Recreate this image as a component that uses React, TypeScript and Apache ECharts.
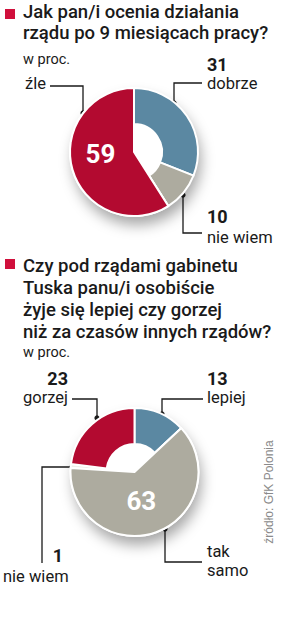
import React, { useEffect, useRef } from 'react';
import * as echarts from 'echarts';

const q1Title = ['Jak pan/i ocenia działania', 'rządu po 9 miesiącach pracy?'];
const q1Categories = ['dobrze', 'nie wiem', 'źle'];
const q1Values = [31, 10, 59];

const q2Title = [
  'Czy pod rządami gabinetu',
  'Tuska panu/i osobiście',
  'żyje się lepiej czy gorzej',
  'niż za czasów innych rządów?',
];
const q2Categories = ['lepiej', 'tak samo', 'nie wiem', 'gorzej'];
const q2Values = [13, 63, 1, 23];

const unitLabel = 'w proc.';
const sourceLabel = 'źródło: GfK Polonia';

const RED = '#b30a30';
const BLUE = '#5b88a2';
const GRAY = '#adab9f';
const LIGHT = '#efeee9';
const SQUARE = '#d0103c';
const INK = '#1a1a1a';

const q1Colors = [BLUE, GRAY, RED];
const q2Colors = [BLUE, GRAY, LIGHT, RED];

const FONT = 'Roboto, "Noto Sans", sans-serif';

const R_OUT = 64;
const R_IN = 28;
const C1 = [134, 152];
const C2 = [134.5, 472];

function pieSeries(center: number[], cats: string[], vals: number[], colors: string[], fullIdx: number, inside: { dx: number; dy: number }) {
  const shadow = {
    type: 'pie',
    silent: true,
    center,
    radius: [0, R_OUT],
    startAngle: 90,
    label: { show: false },
    labelLine: { show: false },
    emphasis: { disabled: true },
    data: [
      {
        value: 1,
        itemStyle: {
          color: '#ffffff',
          shadowBlur: 14,
          shadowOffsetX: 3,
          shadowOffsetY: 9,
          shadowColor: 'rgba(0,0,0,0.35)',
        },
      },
    ],
  };
  const donut = {
    type: 'pie',
    silent: true,
    center,
    radius: [R_IN, R_OUT],
    startAngle: 90,
    clockwise: true,
    avoidLabelOverlap: false,
    label: { show: false },
    labelLine: { show: false },
    emphasis: { disabled: true },
    itemStyle: { borderColor: '#ffffff', borderWidth: 2 },
    data: cats.map((c, i) => ({ name: c, value: vals[i], itemStyle: { color: colors[i] } })),
  };
  const full = {
    type: 'pie',
    silent: true,
    center,
    radius: [0, R_OUT],
    startAngle: 90,
    clockwise: true,
    avoidLabelOverlap: false,
    labelLine: { show: false },
    emphasis: { disabled: true },
    labelLayout: { dx: inside.dx, dy: inside.dy },
    data: cats.map((c, i) =>
      i === fullIdx
        ? {
            name: c,
            value: vals[i],
            itemStyle: { color: colors[i], borderColor: '#ffffff', borderWidth: 2 },
            label: {
              show: true,
              position: 'inside',
              formatter: '{c}',
              color: '#ffffff',
              fontFamily: FONT,
              fontWeight: 'bold',
              fontSize: 26,
            },
          }
        : {
            name: c,
            value: vals[i],
            itemStyle: { color: 'transparent', borderWidth: 0 },
            label: { show: false },
          }
    ),
  };
  return [shadow, donut, full];
}

function txt(x: number, y: number, text: string, size: number, opts: any = {}) {
  return {
    type: 'text',
    x,
    y,
    silent: true,
    style: {
      text,
      fill: opts.fill || INK,
      fontFamily: opts.family || FONT,
      fontSize: size,
      fontWeight: opts.weight || 'normal',
      align: opts.align || 'left',
      verticalAlign: 'middle',
      lineHeight: opts.lineHeight,
    },
    rotation: opts.rotation || 0,
  };
}

function leader(points: number[][]) {
  const dot = points[0];
  return [
    {
      type: 'polyline',
      silent: true,
      shape: { points },
      style: { stroke: INK, lineWidth: 1.3, fill: 'none' },
    },
    {
      type: 'circle',
      silent: true,
      shape: { cx: dot[0], cy: dot[1], r: 2.6 },
      style: { fill: INK },
    },
  ];
}

export default function App() {
  const ref = useRef<HTMLDivElement>(null);

  useEffect(() => {
    if (!ref.current) return;
    const chart = echarts.init(ref.current, null, { renderer: 'svg' });

    const titleSize = 18.5;
    const lab = 16.5;
    const num = 18;
    const graphic: any[] = [];
    // Title 1
    graphic.push({ type: 'rect', silent: true, shape: { x: 5, y: 9, width: 10, height: 10 }, style: { fill: SQUARE } });
    q1Title.forEach((t, i) => graphic.push(txt(23, 12 + i * 21, t, titleSize, { weight: 500 })));
    graphic.push(txt(23, 59, unitLabel, 14.5));

    // Chart 1 annotations
    graphic.push(txt(207, 64.5, String(q1Values[0]), num, { weight: 'bold' }));
    graphic.push(txt(207, 83.5, q1Categories[0], lab));
    graphic.push(...leader([[174, 103], [174, 83], [202, 83]]));

    graphic.push(txt(207, 216.5, String(q1Values[1]), num, { weight: 'bold' }));
    graphic.push(txt(207, 237, q1Categories[1], lab));
    graphic.push(...leader([[183, 195], [183, 233], [202, 233]]));

    graphic.push(txt(25, 83.5, q1Categories[2], lab));
    graphic.push(...leader([[83, 113], [83, 86], [50, 86]]));

    // Title 2
    graphic.push({ type: 'rect', silent: true, shape: { x: 5, y: 259, width: 10, height: 10 }, style: { fill: SQUARE } });
    q2Title.forEach((t, i) => graphic.push(txt(23, 266 + i * 22, t, titleSize, { weight: 500 })));
    graphic.push(txt(23, 352, unitLabel, 14.5));

    // Chart 2 annotations
    graphic.push(txt(207, 378.5, String(q2Values[0]), num, { weight: 'bold' }));
    graphic.push(txt(207, 397.5, q2Categories[0], lab));
    graphic.push(...leader([[162, 414], [162, 399], [203, 399]]));

    graphic.push(txt(207, 561, q2Categories[1].split(' ').join('\n'), lab, { lineHeight: 19.5 }));
    graphic.push(...leader([[165, 529], [165, 562], [202, 562]]));

    graphic.push(txt(63, 555.5, String(q2Values[2]), num, { weight: 'bold', align: 'right' }));
    graphic.push(txt(3, 576, q2Categories[2], lab));
    graphic.push(...leader([[72, 467], [42, 467], [42, 563]]));

    graphic.push(txt(68, 378.5, String(q2Values[3]), num, { weight: 'bold', align: 'right' }));
    graphic.push(txt(68, 397.5, q2Categories[3], lab, { align: 'right' }));
    graphic.push(...leader([[97, 418], [97, 399], [72, 399]]));

    // Source
    graphic.push(
      txt(269, 492, sourceLabel, 12, {
        fill: '#8a8a8a',
        family: '"Liberation Sans", Arial, sans-serif',
        align: 'center',
        rotation: Math.PI / 2,
      })
    );

    chart.setOption({
      animation: false,
      backgroundColor: '#ffffff',
      series: [
        ...pieSeries(C1, q1Categories, q1Values, q1Colors, 2, { dx: 0, dy: -8 }),
        ...pieSeries(C2, q2Categories, q2Values, q2Colors, 1, { dx: -5, dy: -4 }),
      ],
      graphic,
    });

    return () => chart.dispose();
  }, []);

  return (
    <div
      ref={ref}
      style={{ position: 'fixed', left: 0, top: 0, width: 300, height: 640, background: '#fff' }}
    />
  );
}
